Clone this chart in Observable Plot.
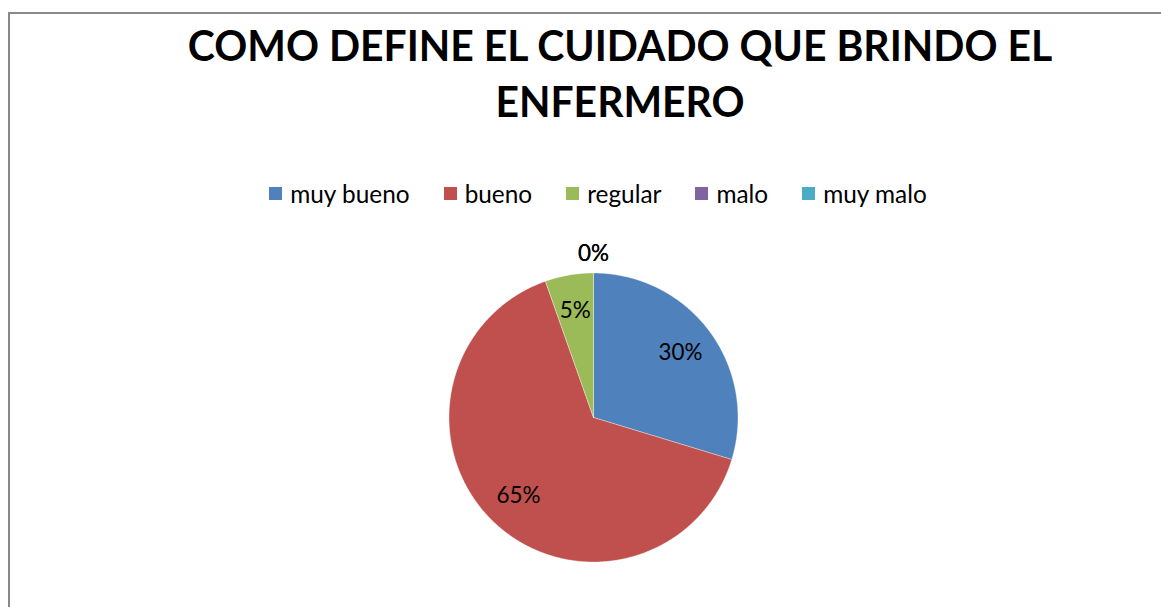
<!DOCTYPE html>
<html><head><meta charset="utf-8">
<script src="https://cdn.jsdelivr.net/npm/d3@7"></script>
<script src="https://cdn.jsdelivr.net/npm/@observablehq/plot@0.6"></script>
<style>
html,body{margin:0;padding:0;background:#fff;overflow:hidden;width:1161px;height:607px}
#frame{position:absolute;left:8px;top:12px;width:1400px;height:900px;border:2px solid #898989;box-sizing:border-box}
.tline{position:absolute;left:0;width:1240px;text-align:center;font-family:Lato,"Open Sans",sans-serif;font-weight:bold;color:#000;white-space:nowrap}
#legend{position:absolute;left:0;width:1196px;top:177px;height:33px;font-family:Lato,"Open Sans",sans-serif;color:#000}
#legend .lg-swatches{justify-content:center;margin:0;min-height:33px}
#legend .lg-swatch{margin-right:34px}
#legend .lg-swatch:last-child{margin-right:0}
#legend .lg-swatch > svg{margin-right:8px}
#chart{position:absolute;left:0;top:225px}
</style></head><body>
<div id="frame"></div>
<div id="legend"></div>
<div id="chart"></div>
<script>
const categories = ["muy bueno", "bueno", "regular", "malo", "muy malo"];
const values = [29.7, 64.9, 5.4, 0, 0];
const colors = ["#4F81BD", "#C0504D", "#9BBB59", "#8064A2", "#4BACC6"];
const titleLines = ["COMO DEFINE EL CUIDADO QUE BRINDO EL", "ENFERMERO"];

const FAMILY = 'Lato, "Open Sans", sans-serif';
const cv = document.createElement("canvas").getContext("2d");
function fitSize(text, weight, target) {
  cv.font = `${weight} 100px ${FAMILY}`;
  return 100 * target / cv.measureText(text).width;
}
function metrics(weight, size) {
  cv.font = `${weight} ${size}px ${FAMILY}`;
  const m = cv.measureText("H");
  return {asc: m.fontBoundingBoxAscent, desc: m.fontBoundingBoxDescent, cap: m.actualBoundingBoxAscent};
}

// Title
const tSize = fitSize(titleLines[0], "bold", 866);
const tm = metrics("bold", tSize);
const capTarget = 29.5;
const sy = capTarget / tm.cap;
const baselines = [61.7, 117.7];
titleLines.forEach((t, i) => {
  const d = document.createElement("div");
  d.className = "tline";
  d.textContent = t;
  d.style.fontSize = tSize + "px";
  d.style.lineHeight = tSize + "px";
  const off = tm.asc + (tSize - tm.asc - tm.desc) / 2;
  d.style.top = (baselines[i] - off) + "px";
  d.style.transformOrigin = `50% ${off}px`;
  d.style.transform = `scaleY(${sy})`;
  document.body.appendChild(d);
});

// Legend
const lSize = fitSize("muy bueno", "normal", 120);
const legend = Plot.legend({
  color: {type: "ordinal", domain: categories, range: colors},
  swatchSize: 13,
  className: "lg",
  style: {fontSize: lSize + "px", fontFamily: FAMILY, color: "#000"}
});
document.getElementById("legend").appendChild(legend);

// Pie geometry in unit coordinates (angle clockwise from top)
const total = d3.sum(values);
let acc = 0;
const slices = categories.map((c, i) => {
  const a0 = acc / total * 2 * Math.PI;
  acc += values[i];
  const a1 = acc / total * 2 * Math.PI;
  return {cat: c, value: values[i], a0, a1};
});
const polys = [];
slices.filter(s => s.value > 0).forEach(s => {
  const n = Math.max(2, Math.ceil((s.a1 - s.a0) / (Math.PI / 360)));
  polys.push({cat: s.cat, x: 0, y: 0});
  for (let k = 0; k <= n; k++) {
    const a = s.a0 + (s.a1 - s.a0) * k / n;
    polys.push({cat: s.cat, x: Math.sin(a), y: Math.cos(a)});
  }
  polys.push({cat: s.cat, x: 0, y: 0});
});
const labels = slices.map(s => {
  const m = (s.a0 + s.a1) / 2;
  const r = s.value > 0 ? 0.75 : 1.13;
  return {cat: s.cat, x: r * Math.sin(m), y: r * Math.cos(m), text: Math.round(s.value / total * 100) + "%"};
});
const labSize = fitSize("30%", "normal", 44);

const W = 1161, H = 382, R = 144.5, CX = 593, CY = 192;
const chart = Plot.plot({
  width: W, height: H,
  marginLeft: CX - R, marginRight: W - CX - R,
  marginTop: CY - R, marginBottom: H - CY - R,
  x: {domain: [-1, 1], axis: null},
  y: {domain: [-1, 1], axis: null},
  color: {type: "ordinal", domain: categories, range: colors},
  style: {fontFamily: FAMILY, background: "transparent", overflow: "visible"},
  marks: [
    Plot.line(polys, {x: "x", y: "y", z: "cat", fill: "cat", stroke: "#ffffff", strokeWidth: 0.5, strokeOpacity: 0.7, curve: "linear"}),
    Plot.text(labels, {x: "x", y: "y", text: "text", fontSize: labSize, fill: "#000"})
  ]
});
document.getElementById("chart").appendChild(chart);
</script>
</body></html>
